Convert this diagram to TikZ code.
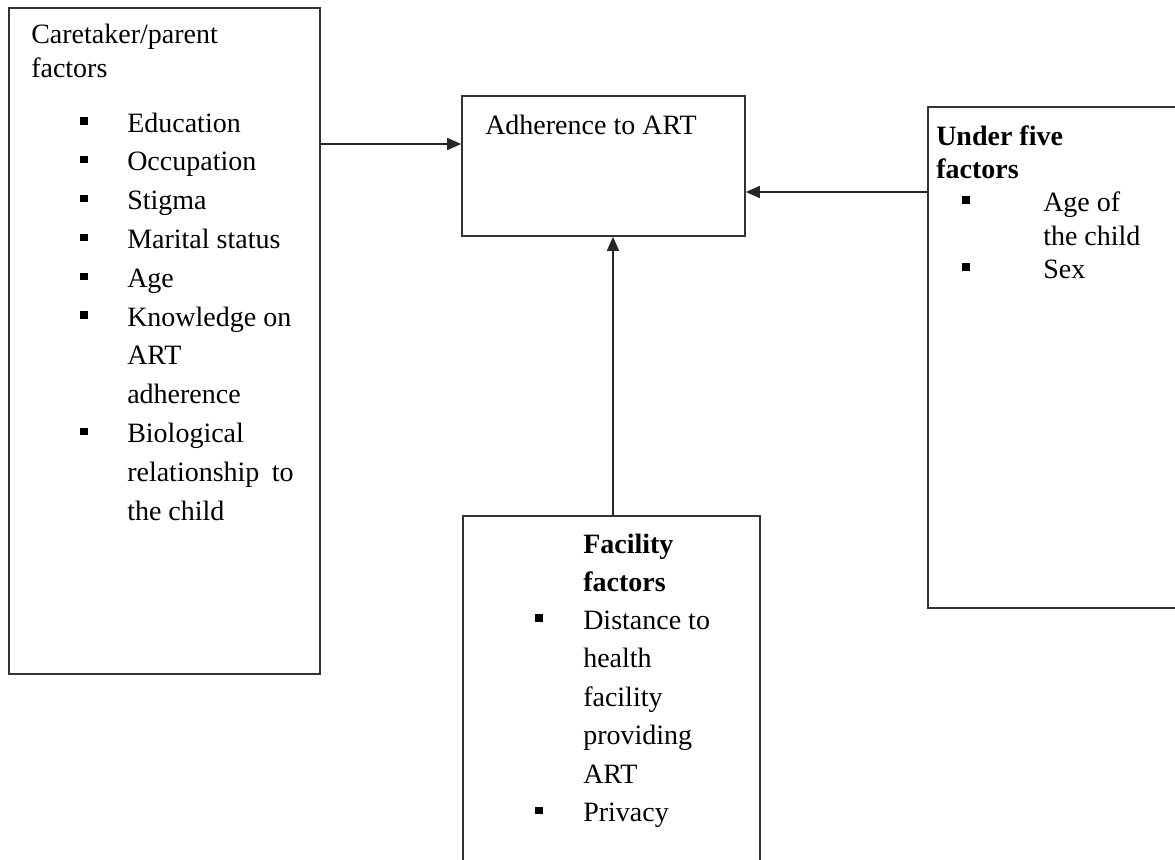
\documentclass[tikz,border=0pt]{standalone}
\usepackage{fontspec}
\setmainfont{Liberation Serif}
\usetikzlibrary{arrows.meta,fit}
\begin{document}
\begin{tikzpicture}[x=0.75pt,y=-0.75pt,
  box/.style={draw=black!80, line width=1.2pt, inner sep=0pt},
  txt/.style={anchor=base west, inner sep=0pt, font=\fontsize{21}{25}\selectfont},
  btxt/.style={anchor=base west, inner sep=0pt, font=\fontsize{21}{25}\selectfont\bfseries},
  bul/.style={fill=black, minimum size=5.5pt, inner sep=0pt},
  arr/.style={line width=1.1pt, draw=black!85, -{Triangle[length=10.5pt,width=9pt]}}]
\clip (0,0) rectangle (1175,860);
\fill[white] (0,0) rectangle (1175,860);
% boxes
\coordinate (careA) at (9,8);   \coordinate (careB) at (320,674);
\coordinate (adhA) at (462,96); \coordinate (adhB) at (745,236);
\coordinate (undA) at (928,107);\coordinate (undB) at (1190,608);
\coordinate (facA) at (463,516);\coordinate (facB) at (760,900);
\node[box, fit=(careA)(careB)] (care) {};
\node[box, fit=(adhA)(adhB)] (adh) {};
\node[box, fit=(undA)(undB)] (under) {};
\node[box, fit=(facA)(facB)] (facil) {};
% caretaker text
\node[txt] (c0) at (31,43) {Caretaker/parent};
\node[txt] (c1) at (31,77) {factors};
\node[txt] (c2) at (127,132) {Education};
\node[txt] (c3) at (127,170.8) {Occupation};
\node[txt] (c4) at (127,209.6) {Stigma};
\node[txt] (c5) at (127,248.4) {Marital status};
\node[txt] (c6) at (127,287.2) {Age};
\node[txt] (c7) at (127,326) {Knowledge on};
\node[txt] (c8) at (127,364.8) {ART};
\node[txt] (c9) at (127,403.6) {adherence};
\node[txt] (c10) at (127,442.4) {Biological};
\node[txt] (c11) at (127,481.2) {relationship\hspace{4pt} to};
\node[txt] (c12) at (127,520) {the child};
\foreach \y [count=\i] in {132,170.8,209.6,248.4,287.2,326,442.4}
  \node[bul] (cb\i) at (84,\y-11) {};
% adherence
\node[txt] (a0) at (485,134) {Adherence to ART};
% under five
\node[btxt] (u0) at (936,145) {Under five};
\node[btxt] (u1) at (936,178) {factors};
\node[txt] (u2) at (1043,211) {Age of};
\node[txt] (u3) at (1043,245) {the child};
\node[txt] (u4) at (1043,278) {Sex};
\foreach \y [count=\i] in {211,278}
  \node[bul] (ub\i) at (966,\y-11) {};
% facility
\node[btxt] (f0) at (583,553) {Facility};
\node[btxt] (f1) at (583,591) {factors};
\node[txt] (f2) at (583,629) {Distance to};
\node[txt] (f3) at (583,667.5) {health};
\node[txt] (f4) at (583,706) {facility};
\node[txt] (f5) at (583,744.5) {providing};
\node[txt] (f6) at (583,783) {ART};
\node[txt] (f7) at (583,821.5) {Privacy};
\foreach \y [count=\i] in {629,821.5}
  \node[bul] (fb\i) at (539,\y-11) {};
% connectors
\coordinate (y1) at (0,144);
\coordinate (y2) at (0,192);
\coordinate (x1) at (613,0);
\draw[arr] (care.east |- y1) -- (adh.west |- y1);
\draw[arr] (under.west |- y2) -- (adh.east |- y2);
\draw[arr] (facil.north -| x1) -- (adh.south -| x1);
\end{tikzpicture}
\end{document}
